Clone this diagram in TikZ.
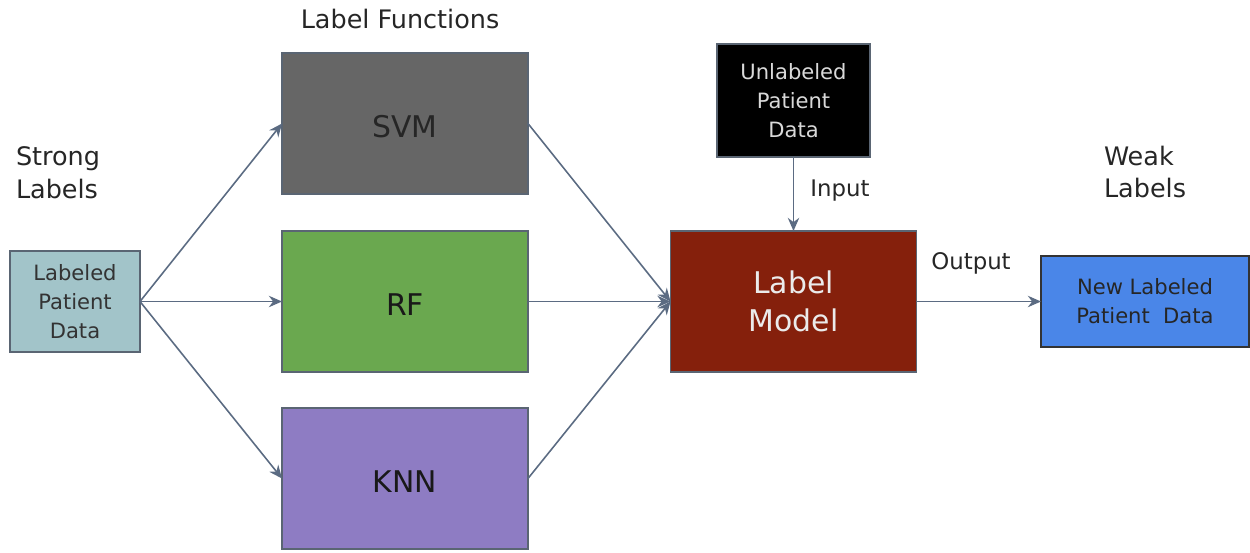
\documentclass[tikz,border=0pt]{standalone}
\usepackage{fontspec}
\setmainfont{DejaVu Sans}
\usetikzlibrary{arrows.meta}
\definecolor{lpdcol}{HTML}{A2C4C9}
\definecolor{svmcol}{HTML}{666666}
\definecolor{rfcol}{HTML}{6AA84F}
\definecolor{knncol}{HTML}{8E7CC3}
\definecolor{lmcol}{HTML}{85200C}
\definecolor{newcol}{HTML}{4A86E8}
\definecolor{linkcol}{HTML}{5B6B82}
\definecolor{edgecol}{HTML}{5A6573}
\begin{document}
\begin{tikzpicture}[x=0.02cm,y=-0.02cm,
  box/.style={draw=edgecol,line width=0.8pt,inner sep=0pt,outer sep=0pt,align=center},
  lfbox/.style={box,minimum width=4.92cm,minimum height=2.82cm,text height=16pt,text depth=0pt,font=\fontsize{17}{21}\selectfont},
  smallbox/.style={box,font=\fontsize{12}{16.4}\selectfont},
  caption/.style={font=\fontsize{14.5}{18.7}\selectfont,align=left,text=black!85},
  tag/.style={font=\fontsize{13}{16}\selectfont,text=black!85},
  link/.style={draw=linkcol,line width=0.9pt,-{Stealth[length=7.5pt,width=6.5pt]}}]
\useasboundingbox (0,0) rectangle (1250,552);
% boxes
\node[smallbox,fill=lpdcol,minimum width=2.6cm,minimum height=2.02cm,text=black!80] (lpd) at (75,301.5) {Labeled\\Patient\\Data};
\node[lfbox,fill=svmcol,text=black!85] (svm) at (405,123.5) {SVM};
\node[lfbox,fill=rfcol,text=black!90] (rf) at (405,301.5) {RF};
\node[lfbox,fill=knncol,text=black!90] (knn) at (405,478.5) {KNN};
\node[box,minimum width=4.92cm,minimum height=2.82cm,fill=lmcol,text=white!92!black,font=\fontsize{17}{21.5}\selectfont] (lm) at (793.5,301.5) {Label\\Model};
\node[smallbox,fill=black,minimum width=3.06cm,minimum height=2.26cm,text=white!85!black] (unl) at (793.5,100.5) {Unlabeled\\Patient\\Data};
\node[smallbox,fill=newcol,draw=black!80,minimum width=4.16cm,minimum height=1.82cm,text=black!85] (new) at (1145,301.5) {New Labeled\\Patient~~Data};
% texts
\node[caption] (lftitle) at (400,19) {Label Functions};
\node[caption] (strong) at (58,173) {Strong\\Labels};
\node[caption] (weak) at (1145,172) {Weak\\Labels};
\node[tag] (input) at (840,191) {Input};
\node[tag] (output) at (971,263) {Output};
% links
\foreach \f in {svm,rf,knn} {
  \draw[link] (lpd.east) -- (\f.west);
  \draw[link] (\f.east) -- (lm.west);
}
\draw[link] (unl.south) -- (lm.north);
\draw[link] (lm.east) -- (new.west);
\end{tikzpicture}
\end{document}
